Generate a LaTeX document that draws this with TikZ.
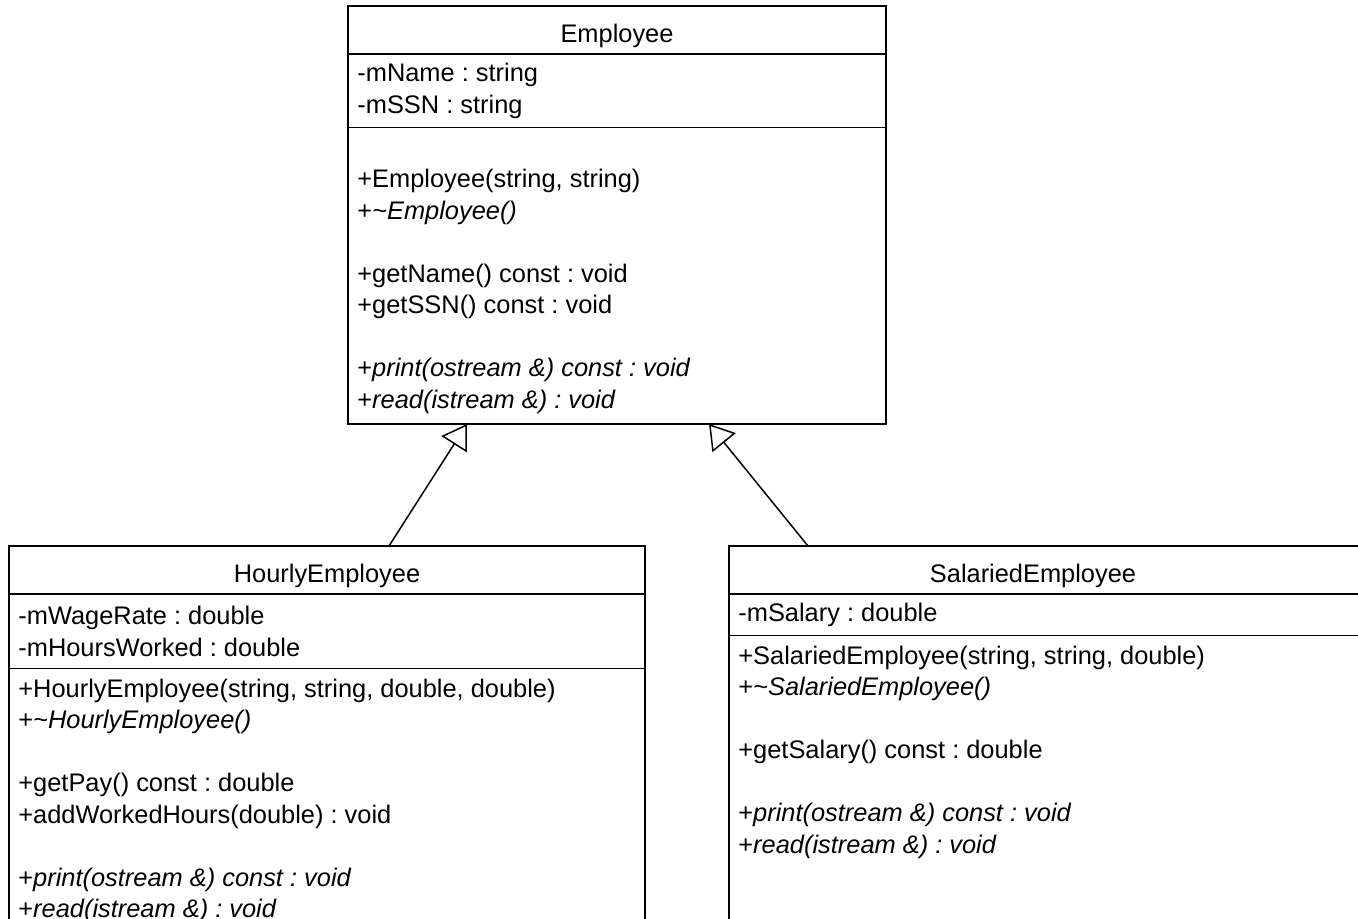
\documentclass[tikz,border=0pt]{standalone}
\usepackage{fontspec}
\setmainfont{Liberation Sans}
\usetikzlibrary{arrows.meta,positioning}
\frenchspacing
\tikzset{
  classbox/.style={draw, line width=1pt, anchor=north west, inner sep=0pt, outer sep=0pt},
  classname/.style={anchor=north, minimum height=23.5pt, inner sep=0pt, text height=12.3pt, text depth=0pt},
  members/.style={anchor=north west, align=left, inner xsep=4.5pt, inner ysep=0pt},
  methods/.style={anchor=north west, align=left, inner xsep=4.5pt, inner ysep=5pt},
  divider/.style={line width=0.8pt},
  inherit/.style={line width=0.75pt, -{Triangle[open, length=12pt, width=15pt]}}
}
\begin{document}
\begin{tikzpicture}[x=0.5pt, y=-0.5pt, font=\fontsize{12.7}{15.75}\selectfont]
  \useasboundingbox (0,0) rectangle (1358,919);
  \clip (0,0) rectangle (1358,919);

  % base class
  \node[classbox, minimum width=269pt, minimum height=209pt] (employee) at (348,6) {};
  \node[classname] (employeename) at (employee.north) {Employee};
  \node[members, minimum height=36.5pt] (employeeattrs) at (employeename.south -| employee.west)
    {-mName : string\\-mSSN : string};
  \node[methods] (employeeops) at ([yshift=-15.75pt]employeeattrs.south -| employee.west)
    {+Employee(string, string)\\+\textit{\textasciitilde Employee()}\\[15.75pt]
     +getName() const : void\\+getSSN() const : void\\[15.75pt]
     +\textit{print(ostream \&) const : void}\\+\textit{read(istream \&) : void}};
  \draw[divider] (employee.west |- employeename.south) -- (employee.east |- employeename.south);
  \draw[divider] (employee.west |- employeeattrs.south) -- (employee.east |- employeeattrs.south);

  % hourly
  \node[classbox, minimum width=318pt, minimum height=200pt] (hourly) at (9,546) {};
  \node[classname] (hourlyname) at (hourly.north) {HourlyEmployee};
  \node[members, minimum height=37pt] (hourlyattrs) at (hourlyname.south -| hourly.west)
    {-mWageRate : double\\-mHoursWorked : double};
  \node[methods] (hourlyops) at (hourlyattrs.south -| hourly.west)
    {+HourlyEmployee(string, string, double, double)\\+\textit{\textasciitilde HourlyEmployee()}\\[15.75pt]
     +getPay() const : double\\+addWorkedHours(double) : void\\[15.75pt]
     +\textit{print(ostream \&) const : void}\\+\textit{read(istream \&) : void}};
  \draw[divider] (hourly.west |- hourlyname.south) -- (hourly.east |- hourlyname.south);
  \draw[divider] (hourly.west |- hourlyattrs.south) -- (hourly.east |- hourlyattrs.south);

  % salaried
  \node[classbox, minimum width=335.5pt, minimum height=200pt] (salaried) at (729,546) {};
  \node[classname] (salariedname) at ([xshift=-15.75pt]salaried.north) {SalariedEmployee};
  \node[members, minimum height=20.5pt] (salariedattrs) at (salariedname.south -| salaried.west)
    {-mSalary : double};
  \node[methods] (salariedops) at (salariedattrs.south -| salaried.west)
    {+SalariedEmployee(string, string, double)\\+\textit{\textasciitilde SalariedEmployee()}\\[15.75pt]
     +getSalary() const : double\\[15.75pt]
     +\textit{print(ostream \&) const : void}\\+\textit{read(istream \&) : void}};
  \draw[divider] (salaried.west |- salariedname.south) -- (salaried.east |- salariedname.south);
  \draw[divider] (salaried.west |- salariedattrs.south) -- (salaried.east |- salariedattrs.south);

  % generalisation
  \draw[inherit] ([xshift=190pt]hourly.north west) -- ([xshift=59.5pt]employee.south west);
  \draw[inherit] ([xshift=39.5pt]salaried.north west) -- ([xshift=180.5pt]employee.south west);
\end{tikzpicture}
\end{document}
